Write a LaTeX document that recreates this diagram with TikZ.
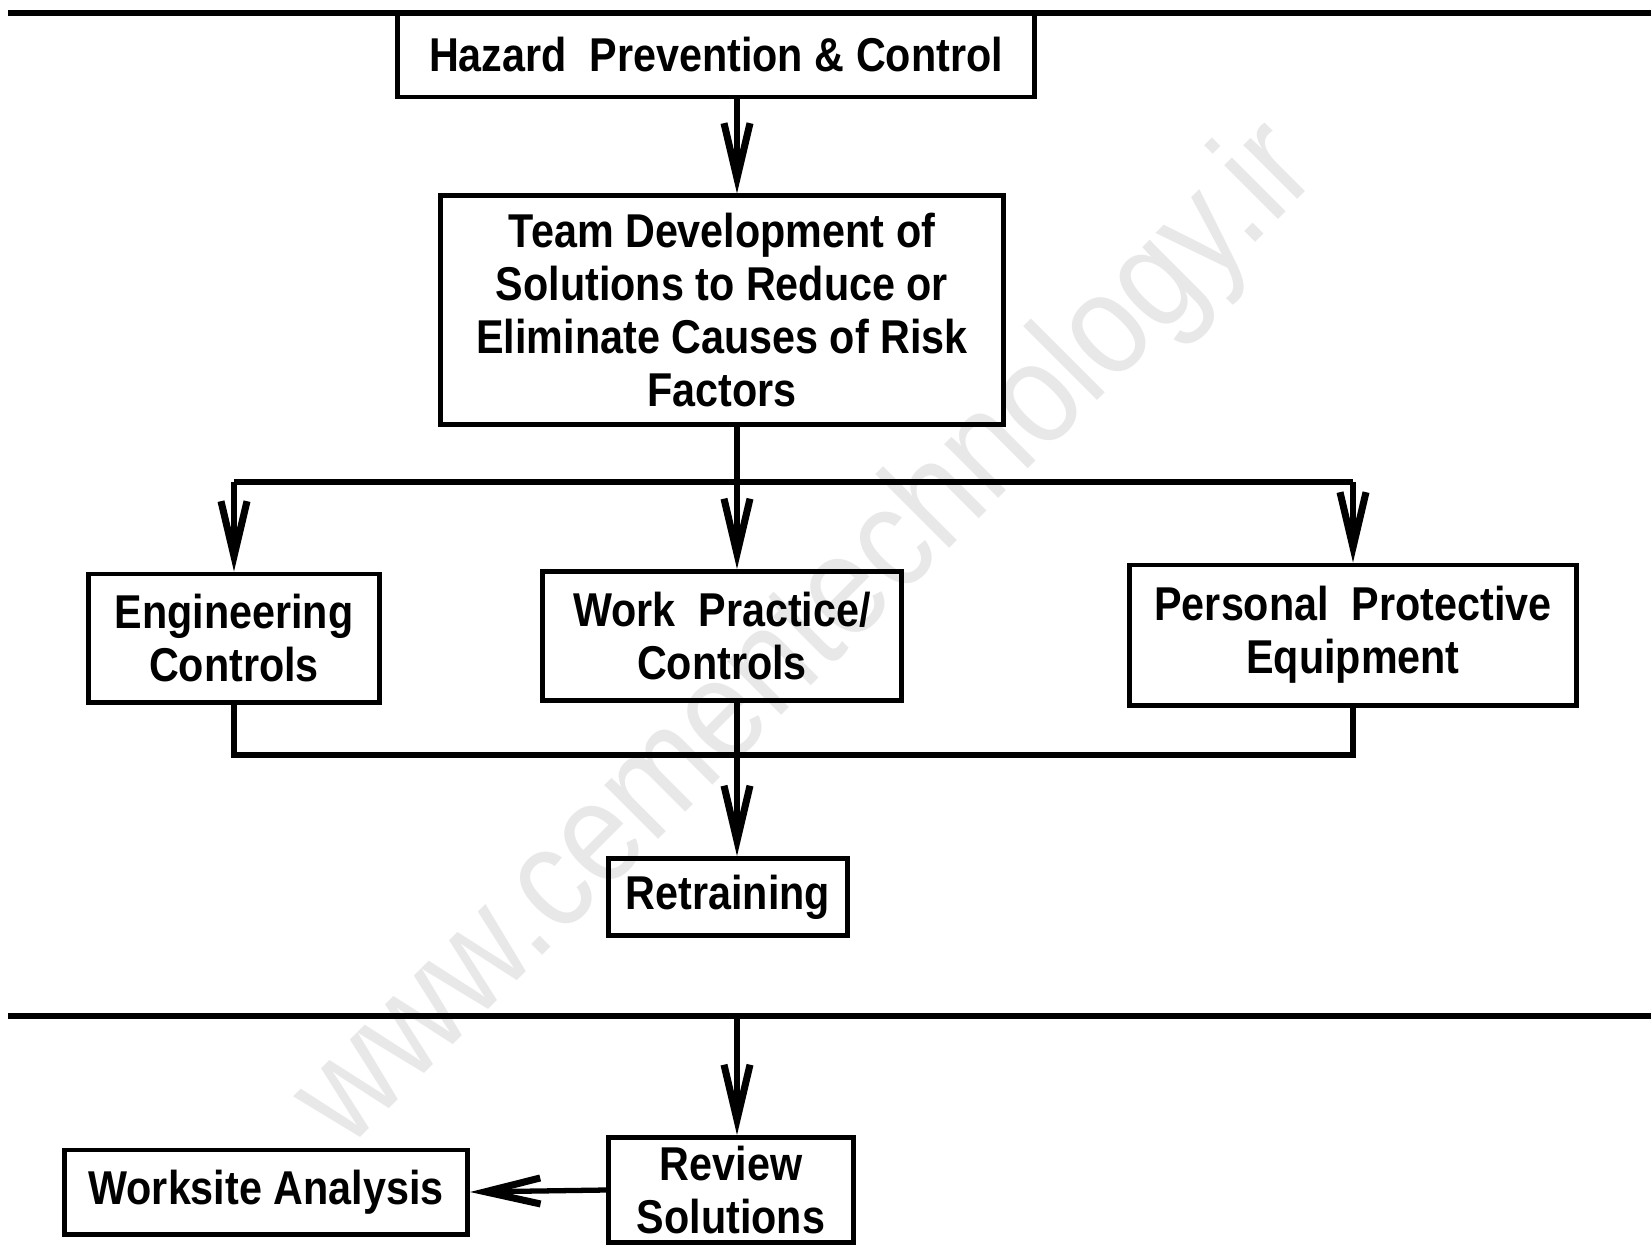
\documentclass[tikz,border=0pt]{standalone}
\usepackage{fontspec}
\setmainfont{Liberation Sans}[FakeStretch=0.87]
\usetikzlibrary{arrows.meta}

\tikzset{
    chartbox/.style={draw, line width=1.4pt, align=center, inner sep=0pt,
        font=\bfseries\fontsize{13.5}{15}\selectfont},
    bus/.style={line width=1.5pt},
    flow/.style={line width=1.5pt, -{Straight Barb[length=0.55cm, width=0.26cm, line width=2pt]}},
}

\begin{document}
\begin{tikzpicture}[x=0.01cm, y=-0.01cm]

    % Frame of the page
    \useasboundingbox (0,0) rectangle (1651,1248);

    % Watermark
    \node[rotate=45, text=gray!18, font=\fontsize{41}{44}\selectfont] (mark) at (808,637) {www.cementechnology.ir};

    % Fixed points
    \coordinate (spine) at (737,0);
    \coordinate (topL) at (8,13);
    \coordinate (topR) at (1651,13);
    \coordinate (busT) at (0,482);
    \coordinate (busB) at (0,755);
    \coordinate (sepL) at (8,1016);
    \coordinate (sepR) at (1651,1016);

    % Boxes
    \node[chartbox, minimum width=6.36cm, minimum height=0.84cm] (hazard) at (716,55) {Hazard\ \ Prevention \& Control};
    \node[chartbox, minimum width=5.63cm, minimum height=2.28cm] (team) at (722,310) {Team Development of\\Solutions to Reduce or\\Eliminate Causes of Risk\\Factors};
    \node[chartbox, minimum width=2.90cm, minimum height=1.28cm] (eng) at (234,638) {Engineering\\Controls};
    \node[chartbox, minimum width=3.59cm, minimum height=1.29cm] (work) at (722,636) {Work\ \ Practice/\\Controls};
    \node[chartbox, minimum width=4.46cm, minimum height=1.40cm] (ppe) at (1353,635) {Personal\ \ Protective\\Equipment};
    \node[chartbox, minimum width=2.38cm, minimum height=0.77cm] (retrain) at (728,897) {Retraining};
    \node[chartbox, minimum width=2.44cm, minimum height=1.05cm] (review) at (731,1190) {Review\\Solutions};
    \node[chartbox, minimum width=4.03cm, minimum height=0.84cm] (worksite) at (266,1192) {Worksite Analysis};

    % Rules
    \draw[bus] (topL) -- (topR);
    \draw[bus] (sepL) -- (sepR);

    % Connectors
    \draw[flow] (hazard.south -| spine) -- (team.north -| spine);
    \draw[bus] (team.south -| spine) -- (busT -| spine);
    \draw[bus] (eng.north |- busT) -- (ppe.north |- busT);
    \draw[flow] (eng.north |- busT) -- (eng.north);
    \draw[flow] (busT -| spine) -- (work.north -| spine);
    \draw[flow] (ppe.north |- busT) -- (ppe.north);

    \draw[bus] (eng.south) -- (eng.south |- busB) -- (ppe.south |- busB) -- (ppe.south);
    \draw[bus] (work.south -| spine) -- (busB -| spine);
    \draw[flow] (busB -| spine) -- (retrain.north -| spine);

    \draw[flow] (sepL -| spine) -- (review.north -| spine);
    \draw[flow] (review.west) -- (worksite.east);
\end{tikzpicture}
\end{document}
